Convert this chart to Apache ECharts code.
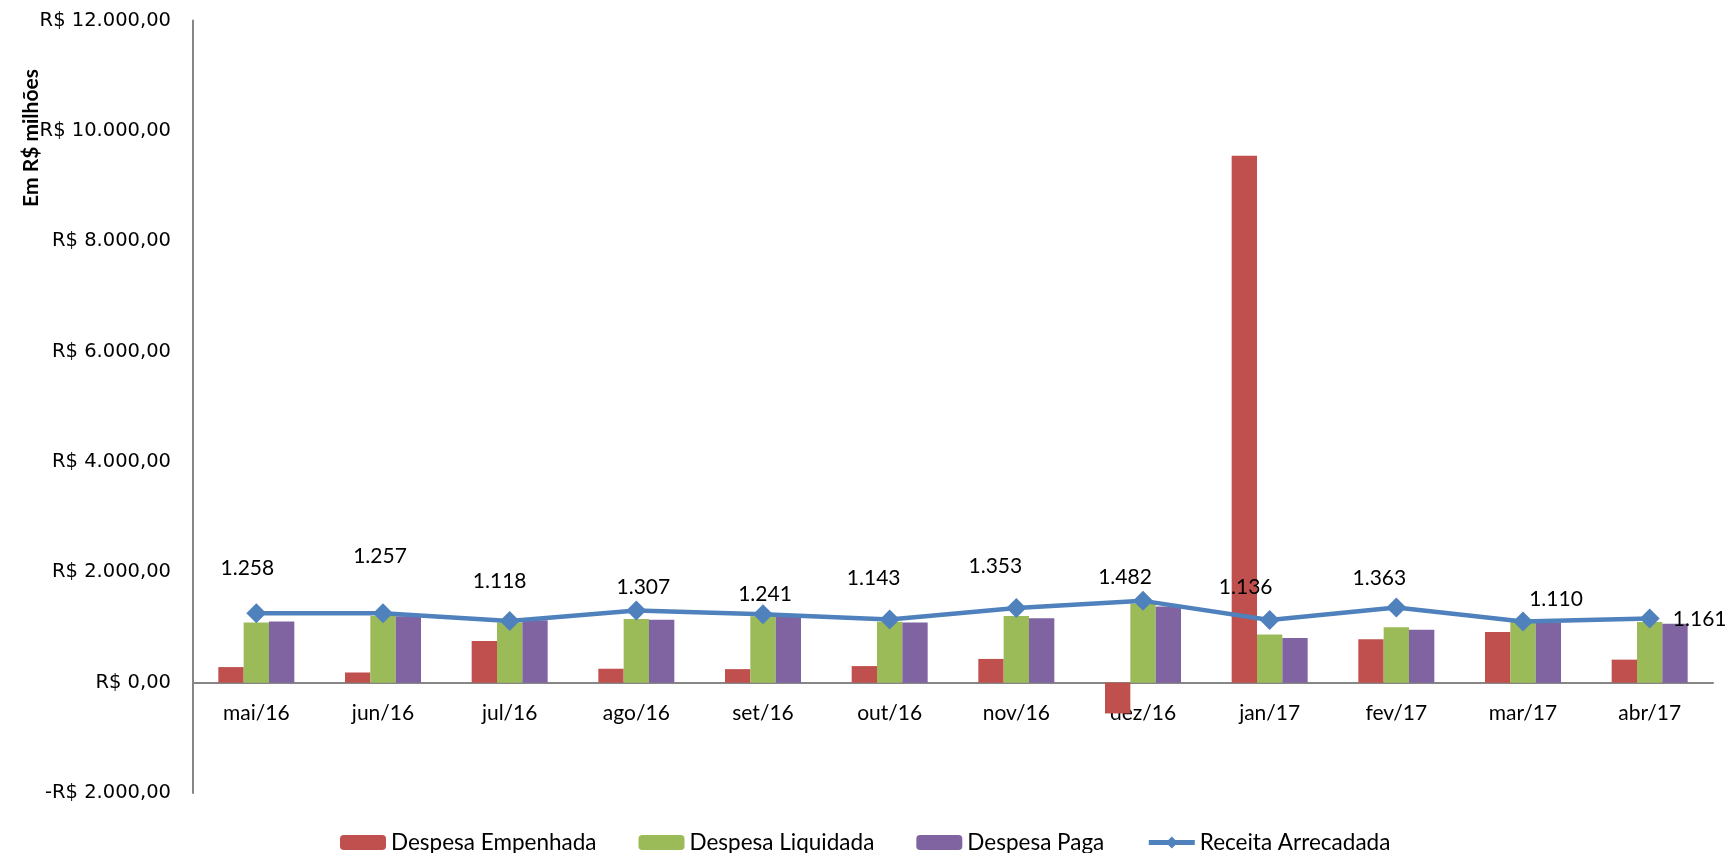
<!DOCTYPE html>
<html>
<head>
<meta charset="utf-8">
<title>Despesa x Receita</title>
<script src="https://cdn.jsdelivr.net/npm/echarts@6/dist/echarts.min.js"></script>
<style>
  html, body { margin: 0; padding: 0; background: #ffffff; }
  #chart { width: 1731px; height: 853px; }
</style>
</head>
<body>
<div id="chart"></div>
<script>
// Monthly values, in R$ millions
const months = ['mai/16', 'jun/16', 'jul/16', 'ago/16', 'set/16', 'out/16',
                'nov/16', 'dez/16', 'jan/17', 'fev/17', 'mar/17', 'abr/17'];
const despesaEmpenhada = [282, 184, 755, 252, 245, 300, 430, -558, 9550, 786, 920, 417];
const despesaLiquidada = [1092, 1209, 1090, 1153, 1205, 1105, 1209, 1436, 872, 1006, 1105, 1098];
const despesaPaga      = [1110, 1205, 1129, 1141, 1200, 1092, 1166, 1380, 810, 957, 1092, 1067];
const receitaArrecadada = [1258, 1257, 1118, 1307, 1241, 1143, 1353, 1482, 1136, 1363, 1110, 1161];

const seriesNames = ['Despesa Empenhada', 'Despesa Liquidada', 'Despesa Paga', 'Receita Arrecadada'];
const yMin = -2000, yMax = 12000, yStep = 2000;

// where each revenue label sits relative to its marker, [dx, dy] in px
const receitaLabelShift = [[-9, -45], [-3, -57], [-10, -40], [7, -23], [2, -20], [-16, -41],
                           [-21, -42], [-18, -24], [-24, -33], [-17, -29], [33, -22], [50, 1]];

// pt-BR number formatting: thousands with '.', decimals with ','
function groupThousands(n) {
  return String(n).replace(/\B(?=(\d{3})+(?!\d))/g, '.');
}
function formatBRL(v) {
  const parts = Math.abs(v).toFixed(2).split('.');
  return (v < 0 ? '-' : '') + 'R$ ' + groupThousands(parts[0]) + ',' + parts[1];
}

const colors = ['#C0504D', '#9BBB59', '#8064A2', '#4F81BD'];
const axisGray = '#868686';
const bodyFont = 'Lato';

const chart = echarts.init(document.getElementById('chart'), null, { renderer: 'canvas' });

function barSeries(name, values, color) {
  return {
    name: name,
    type: 'bar',
    data: values,
    barGap: '0%',
    barCategoryGap: '40%',
    itemStyle: { color: color },
    emphasis: { disabled: true }
  };
}

chart.setOption({
  animation: false,
  backgroundColor: '#ffffff',
  color: colors,
  grid: { left: 193, right: 18, top: 20.5, bottom: 60 },
  legend: {
    data: seriesNames,
    left: 335,
    top: 826,
    itemWidth: 46,
    itemHeight: 15,
    itemGap: 42,
    lineStyle: { width: 5 },
    textStyle: { fontFamily: bodyFont, fontSize: 22.5, color: '#000000' }
  },
  graphic: [{
    type: 'text',
    x: 31,
    y: 138,
    rotation: Math.PI / 2,
    style: {
      text: 'Em R$ milhões',
      fontFamily: bodyFont,
      fontWeight: 'bold',
      fontSize: 21,
      fill: '#000000',
      align: 'center',
      verticalAlign: 'middle'
    }
  }],
  xAxis: {
    type: 'category',
    data: months,
    axisLine: { onZero: false, lineStyle: { color: axisGray, width: 2 } },
    axisTick: { show: false },
    axisLabel: { fontFamily: bodyFont, fontSize: 21, color: '#000000', margin: 20 },
    splitLine: { show: false }
  },
  yAxis: {
    type: 'value',
    min: yMin,
    max: yMax,
    interval: yStep,
    axisLine: { show: true, lineStyle: { color: axisGray, width: 2 } },
    axisTick: { show: false },
    splitLine: { show: false },
    axisLabel: {
      fontFamily: 'DejaVu Sans',
      fontSize: 19.5,
      color: '#000000',
      margin: 22,
      formatter: formatBRL
    }
  },
  series: [
    barSeries(seriesNames[0], despesaEmpenhada, colors[0]),
    barSeries(seriesNames[1], despesaLiquidada, colors[1]),
    barSeries(seriesNames[2], despesaPaga, colors[2]),
    {
      name: seriesNames[3],
      type: 'line',
      z: 5,
      data: receitaArrecadada.map((v, i) => ({
        value: v,
        label: { offset: receitaLabelShift[i] }
      })),
      symbol: 'diamond',
      symbolSize: 20,
      lineStyle: { color: colors[3], width: 4.5 },
      itemStyle: { color: colors[3] },
      emphasis: { disabled: true },
      label: {
        show: true,
        position: 'inside',
        fontFamily: bodyFont,
        fontSize: 21,
        color: '#000000',
        formatter: p => groupThousands(p.value)
      }
    }
  ]
});

// lift the category axis (line and labels) up to the zero value of the y scale
const zeroY = chart.convertToPixel({ yAxisIndex: 0 }, 0);
const bottomY = chart.convertToPixel({ yAxisIndex: 0 }, yMin);
chart.setOption({ xAxis: { offset: zeroY - bottomY } });
</script>
</body>
</html>
